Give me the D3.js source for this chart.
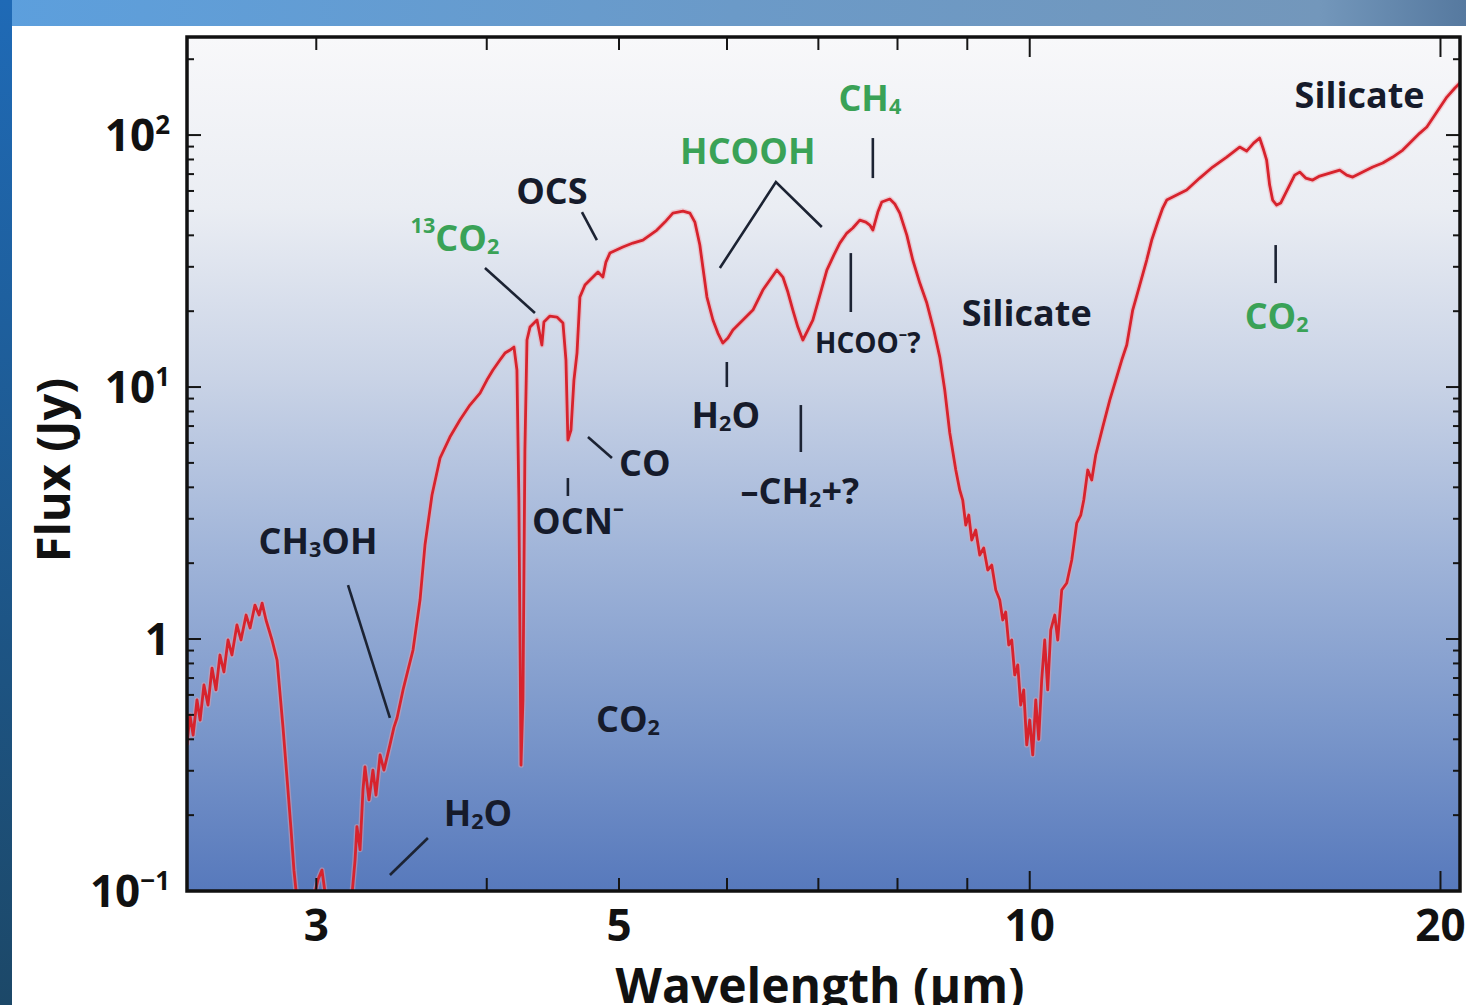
<!DOCTYPE html>
<html>
<head>
<meta charset="utf-8">
<script src="https://cdn.jsdelivr.net/npm/d3@7"></script>
<style>
html, body { margin: 0; padding: 0; background: #fff; overflow: hidden; }
svg { display: block; }
text { font-family: "Open Sans", sans-serif; font-weight: 700; }
</style>
</head>
<body>
<svg id="chart" width="1466" height="1005"></svg>
<script>
// spectrum: wavelength in um, flux in Jy
var wavelength = [2.412,2.424,2.437,2.453,2.466,2.482,2.499,2.516,2.533,2.550,
  2.567,2.585,2.602,2.624,2.642,2.665,2.683,2.705,2.724,2.738,
  2.756,2.784,2.808,2.836,2.860,2.875,2.889,2.904,2.944,2.978,
  3.009,3.029,3.050,3.096,3.149,3.186,3.203,3.213,3.230,3.246,
  3.257,3.279,3.301,3.318,3.341,3.363,3.397,3.420,3.438,3.473,
  3.502,3.532,3.574,3.604,3.647,3.697,3.759,3.823,3.888,3.955,
  4.001,4.042,4.090,4.125,4.160,4.188,4.209,4.223,4.238,4.252,
  4.266,4.281,4.303,4.354,4.390,4.405,4.450,4.503,4.549,4.572,
  4.587,4.611,4.634,4.658,4.681,4.721,4.761,4.826,4.866,4.891,
  4.924,5.033,5.119,5.206,5.331,5.403,5.476,5.570,5.636,5.683,
  5.731,5.800,5.859,5.908,5.958,6.009,6.060,6.163,6.268,6.374,
  6.450,6.527,6.593,6.649,6.705,6.762,6.819,6.877,6.935,7.018,
  7.101,7.185,7.258,7.345,7.419,7.507,7.584,7.635,7.674,7.739,
  7.791,7.897,7.964,8.031,8.127,8.209,8.307,8.406,8.505,8.592,
  8.664,8.738,8.827,8.886,8.931,8.977,9.022,9.068,9.129,9.191,
  9.253,9.316,9.379,9.443,9.507,9.555,9.603,9.652,9.701,9.750,
  9.800,9.849,9.899,9.950,10.000,10.051,10.102,10.153,10.204,10.256,
  10.308,10.361,10.431,10.484,10.555,10.645,10.735,10.826,10.900,10.955,
  11.029,11.103,11.178,11.311,11.446,11.581,11.680,11.779,11.898,12.040,
  12.182,12.286,12.411,12.516,12.601,12.814,13.032,13.322,13.617,13.943,
  14.251,14.420,14.591,14.740,14.840,14.915,14.991,15.067,15.169,15.272,
  15.375,15.506,15.638,15.771,15.931,16.120,16.312,16.590,16.873,17.074,
  17.248,17.541,17.840,18.144,18.454,18.768,19.088,19.315,19.545,19.878,
  20.217,20.493,20.773];
var flux = [0.380,0.499,0.416,0.573,0.477,0.657,0.547,0.767,0.628,0.864,
  0.740,0.991,0.864,1.137,0.991,1.245,1.106,1.364,1.245,1.389,
  1.190,0.991,0.825,0.448,0.252,0.175,0.121,0.092,0.070,0.088,
  0.111,0.121,0.092,0.077,0.088,0.096,0.133,0.180,0.146,0.252,
  0.311,0.230,0.302,0.240,0.347,0.302,0.380,0.446,0.486,0.628,
  0.753,0.904,1.428,2.361,3.728,5.228,6.333,7.396,8.483,9.467,
  10.66,11.68,12.80,13.64,14.02,14.41,11.68,3.561,0.316,0.573,
  5.623,15.37,17.30,18.45,14.68,18.11,19.13,18.96,17.95,12.80,
  6.163,6.751,10.66,13.64,22.76,25.40,26.59,28.60,27.32,31.33,
  34.01,35.94,37.27,38.31,41.98,45.16,49.03,49.93,49.03,45.16,
  36.60,22.76,18.45,16.38,14.95,15.65,16.84,18.45,20.21,24.26,
  26.59,29.13,27.32,23.82,20.21,17.30,15.37,16.84,18.45,23.18,
  29.13,33.40,37.27,40.84,42.76,45.99,45.16,43.95,41.98,49.48,
  54.22,55.72,53.24,49.03,40.10,31.92,25.86,21.54,16.84,13.15,
  9.730,6.570,4.685,3.903,3.561,2.834,3.105,2.471,2.707,2.154,
  2.297,1.878,1.966,1.565,1.428,1.190,1.280,0.947,0.991,0.720,
  0.789,0.547,0.628,0.380,0.477,0.347,0.573,0.400,0.688,0.991,
  0.628,1.086,1.245,0.991,1.565,1.668,2.058,2.886,3.105,3.561,
  4.685,4.276,5.373,6.938,8.877,10.96,12.80,14.68,20.21,25.40,
  31.92,38.31,45.16,51.32,55.22,57.80,60.49,67.50,74.65,81.78,
  89.62,86.40,92.96,97.30,87.20,79.58,63.33,55.22,52.75,53.73,
  57.80,63.33,69.37,71.30,67.50,66.27,68.76,70.65,72.61,69.37,
  68.13,71.30,74.65,77.43,81.78,87.20,95.54,101.8,107.6,123.4,
  141.5,153.7,165.3];

// axis ticks
var xTicks = [3, 4, 5, 6, 7, 8, 9, 10, 20];
var xLongTicks = [10, 20];
var xTickLabels = [3, 5, 10, 20];
var yDecades = [0.1, 1, 10, 100];
var yMinor = [0.2,0.3,0.4,0.5,0.6,0.7,0.8,0.9, 2,3,4,5,6,7,8,9, 20,30,40,50,60,70,80,90, 200];

// feature labels ({_x} subscript, {^x} superscript) and where they sit (um, Jy)
var labels = ["CH{_3}OH", "H{_2}O", "CO{_2}", "{^13}CO{_2}", "OCS", "OCN{^–}", "CO", "HCOOH",
  "CH{_4}", "H{_2}O", "–CH{_2}+?", "HCOO{^–}?", "Silicate", "Silicate", "CO{_2}"];
var labelWave = [3.009, 3.941, 5.076, 3.791, 4.465, 4.665, 5.223, 6.214, 7.635, 5.988, 6.785, 7.609, 9.950, 17.448, 15.169];
var labelFlux = [2.471, 0.2058, 0.486, 39.37, 60.49, 2.966, 5.040, 87.20, 141.5, 7.813, 3.903, 15.09, 19.85, 145.4, 19.31];
var greenLabels = [3, 7, 8, 14];
var smallLabels = [11];

// leader lines, [um, Jy] pairs
var leaders = [
  [[3.165, 1.638], [3.397, 0.486]],
  [[3.397, 0.1158], [3.622, 0.1623]],
  [[3.988, 29.67], [4.339, 19.67]],
  [[4.697, 49.48], [4.817, 38.31]],
  [[4.587, 4.354], [4.587, 3.694]],
  [[4.745, 6.333], [4.941, 5.228]],
  [[5.928, 29.67], [6.516, 65.07], [7.041, 43.15]],
  [[7.674, 97.30], [7.674, 67.50]],
  [[5.998, 12.57], [5.998, 10.00]],
  [[6.796, 8.483], [6.796, 5.522]],
  [[7.394, 34.01], [7.394, 19.85]],
  [[15.144, 36.60], [15.144, 25.86]]
];

var W = 1466, H = 1005;
var pLeft = 187, pRight = 1460, pTop = 37, pBottom = 891;
var svg = d3.select("#chart");
var defs = svg.append("defs");

var g1 = defs.append("linearGradient").attr("id", "band").attr("x1", 0).attr("x2", 1).attr("y1", 0).attr("y2", 0);
g1.append("stop").attr("offset", 0).attr("stop-color", "#5c9fdd");
g1.append("stop").attr("offset", 0.5).attr("stop-color", "#6b9ac8");
g1.append("stop").attr("offset", 0.9).attr("stop-color", "#7397bb");
g1.append("stop").attr("offset", 1).attr("stop-color", "#56799f");

var g2 = defs.append("linearGradient").attr("id", "strip").attr("x1", 0).attr("x2", 0).attr("y1", 0).attr("y2", 1);
g2.append("stop").attr("offset", 0).attr("stop-color", "#1f6ab6");
g2.append("stop").attr("offset", 1).attr("stop-color", "#1c4868");

var g3 = defs.append("linearGradient").attr("id", "plotbg").attr("x1", 0).attr("x2", 0).attr("y1", 0).attr("y2", 1);
[[0, "#f8f8fa"], [0.2, "#eaedf3"], [0.4, "#c9d3e6"], [0.6, "#a1b5d9"], [0.8, "#7c98cb"], [1, "#5779bc"]].forEach(function(s) {
  g3.append("stop").attr("offset", s[0]).attr("stop-color", s[1]);
});

defs.append("clipPath").attr("id", "plotclip").append("rect")
  .attr("x", pLeft).attr("y", pTop).attr("width", pRight - pLeft).attr("height", pBottom - pTop);

// slide frame
svg.append("rect").attr("width", W).attr("height", H).attr("fill", "#fff");
svg.append("rect").attr("width", W).attr("height", 26).attr("fill", "url(#band)");
svg.append("rect").attr("width", 12).attr("height", H).attr("fill", "url(#strip)");

var x = d3.scaleLog().domain([2.412, 20.67]).range([pLeft, pRight]);
var y = d3.scaleLog().domain([0.1, 245]).range([pBottom, pTop]);

svg.append("rect").attr("x", pLeft).attr("y", pTop).attr("width", pRight - pLeft).attr("height", pBottom - pTop)
  .attr("fill", "url(#plotbg)");

// spectrum
var points = d3.zip(wavelength, flux);
var line = d3.line().x(function(d) { return x(d[0]); }).y(function(d) { return y(d[1]); });
var plot = svg.append("g").attr("clip-path", "url(#plotclip)");
plot.append("path").datum(points).attr("d", line).attr("fill", "none")
  .attr("stroke", "#f0a0a8").attr("stroke-width", 5.5).attr("stroke-opacity", 0.45).attr("stroke-linejoin", "round");
plot.append("path").datum(points).attr("d", line).attr("fill", "none")
  .attr("stroke", "#d7232d").attr("stroke-width", 2.8).attr("stroke-linejoin", "round");

// ticks (inward, all four sides)
var tickColor = "#151515";
function xTickLen(d) { return xLongTicks.indexOf(d) >= 0 ? 20 : 13; }
svg.append("g").selectAll("line").data(xTicks).join("line")
  .attr("x1", function(d) { return x(d); }).attr("x2", function(d) { return x(d); })
  .attr("y1", pBottom).attr("y2", function(d) { return pBottom - xTickLen(d); })
  .attr("stroke", tickColor).attr("stroke-width", 2);
svg.append("g").selectAll("line").data(xTicks).join("line")
  .attr("x1", function(d) { return x(d); }).attr("x2", function(d) { return x(d); })
  .attr("y1", pTop).attr("y2", function(d) { return pTop + xTickLen(d); })
  .attr("stroke", tickColor).attr("stroke-width", 2);

var yTicks = yDecades.map(function(d) { return [d, 14]; }).concat(yMinor.map(function(d) { return [d, 7]; }));
[pLeft, pRight].forEach(function(edge) {
  var dir = edge === pLeft ? 1 : -1;
  svg.append("g").selectAll("line").data(yTicks).join("line")
    .attr("x1", edge).attr("x2", function(d) { return edge + dir * d[1]; })
    .attr("y1", function(d) { return y(d[0]); }).attr("y2", function(d) { return y(d[0]); })
    .attr("stroke", tickColor).attr("stroke-width", 2);
});

svg.append("rect").attr("x", pLeft).attr("y", pTop).attr("width", pRight - pLeft).attr("height", pBottom - pTop)
  .attr("fill", "none").attr("stroke", "#111").attr("stroke-width", 3.5);

// tick labels
svg.append("g").selectAll("text").data(xTickLabels).join("text")
  .attr("x", function(d) { return x(d); }).attr("y", 941)
  .attr("text-anchor", "middle").attr("font-size", 44).attr("fill", "#111")
  .text(function(d) { return d; });

var yl = svg.append("g").selectAll("text").data(yDecades).join("text")
  .attr("x", 170).attr("y", function(d) { return y(d) + 16; })
  .attr("text-anchor", "end").attr("font-size", 44).attr("fill", "#111");
yl.each(function(d) {
  var t = d3.select(this);
  if (d === 1) { t.text("1"); return; }
  t.append("tspan").text("10");
  t.append("tspan").attr("font-size", 26).attr("dy", -17).text(d3.format("d")(Math.log10(d)));
});

// axis titles
svg.append("text").attr("x", 820).attr("y", 1003).attr("text-anchor", "middle")
  .attr("font-size", 48).attr("fill", "#111").text("Wavelength (µm)");
svg.append("text").attr("transform", "translate(70,470) rotate(-90)").attr("text-anchor", "middle")
  .attr("font-size", 47).attr("fill", "#111").text("Flux (Jy)");

// leader lines
svg.append("g").selectAll("path").data(leaders).join("path")
  .attr("d", line).attr("fill", "none").attr("stroke", "#1c2333").attr("stroke-width", 2.6);

// feature labels
function richText(sel, str, fs) {
  var re = /\{([_^])([^}]*)\}/g, last = 0, m, shift = 0;
  while ((m = re.exec(str))) {
    if (m.index > last) { sel.append("tspan").attr("dy", -shift).text(str.slice(last, m.index)); shift = 0; }
    var s = m[1] === "_" ? fs * 0.22 : -fs * 0.36;
    sel.append("tspan").attr("font-size", fs * 0.6).attr("dy", s - shift).text(m[2]);
    shift = s;
    last = re.lastIndex;
  }
  if (last < str.length) sel.append("tspan").attr("dy", -shift).text(str.slice(last));
}

svg.append("g").selectAll("text").data(labels).join("text")
  .attr("x", function(d, i) { return x(labelWave[i]); })
  .attr("y", function(d, i) { return y(labelFlux[i]); })
  .attr("dominant-baseline", "central")
  .attr("text-anchor", "middle")
  .attr("fill", function(d, i) { return greenLabels.indexOf(i) >= 0 ? "#3aa257" : "#161b2b"; })
  .attr("font-size", function(d, i) { return smallLabels.indexOf(i) >= 0 ? 28 : 36; })
  .each(function(d, i) { richText(d3.select(this), d, smallLabels.indexOf(i) >= 0 ? 28 : 36); });
</script>
</body>
</html>
